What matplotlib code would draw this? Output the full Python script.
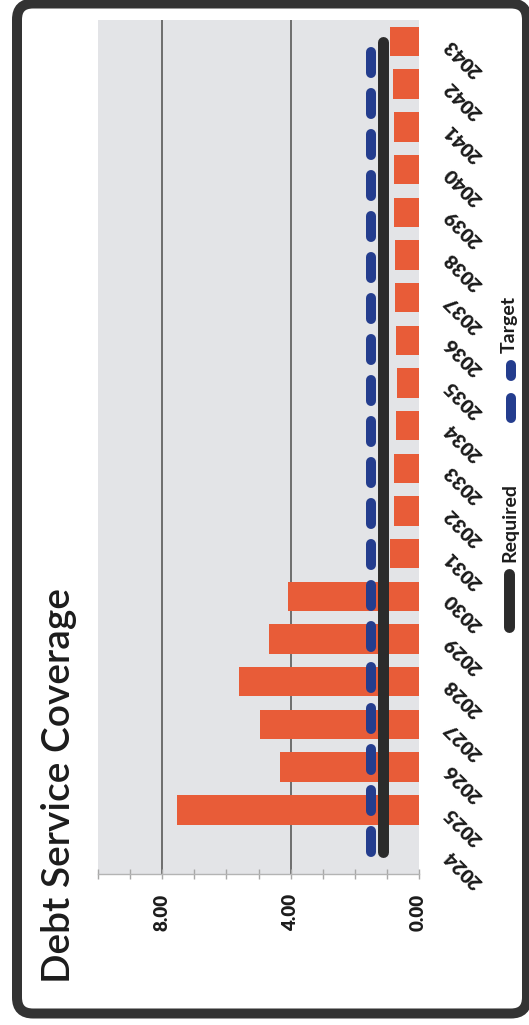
import matplotlib.pyplot as plt
import numpy as np
from matplotlib.lines import Line2D
from matplotlib.patches import FancyBboxPatch
from matplotlib.ticker import MultipleLocator

# ---------------
# ---chart data---
# ---------------

years = [str(y) for y in range(2024, 2044)]
coverage = [0.00, 7.54, 4.32, 4.96, 5.62, 4.67, 4.09, 0.90, 0.77, 0.78,
            0.72, 0.67, 0.70, 0.73, 0.73, 0.76, 0.76, 0.76, 0.80, 0.90]
required = [1.1] * len(years)
target = [1.5] * len(years)
value_ticks = [0, 4, 8]

title = 'Debt Service Coverage'

# ---------------
# ---styling---
# ---------------

W, H = 529, 1025
bar_color = '#e85c38'
req_color = '#2b2b2b'
tgt_color = '#243d8e'
text_color = '#1c1c1c'
plot_bg = '#e3e4e7'
label_weight = 'heavy'

plt.rcParams['font.family'] = ['Lato', 'DejaVu Sans']

fig = plt.figure(figsize=(W / 100, H / 100), dpi=100)
fig.patch.set_facecolor('white')

# chart is laid out sideways: values run right to left, years bottom to top
ax = fig.add_axes([98.4 / W, 1 - 873.8 / H, (418.6 - 98.4) / W, (873.8 - 20.2) / H])
ax.set_facecolor(plot_bg)

pos = np.arange(len(years))
ax.barh(pos, coverage, height=0.69, color=bar_color, zorder=2)
ax.plot(target, pos, color=tgt_color, lw=7.2, dashes=(2.1, 2.0),
        dash_capstyle='round', zorder=3)
ax.plot(required, pos, color=req_color, lw=7.9, solid_capstyle='round', zorder=4)

ax.set_xlim(10, 0)
ax.set_ylim(-0.5, len(years) - 0.5)

ax.set_xticks(value_ticks, labels=['%.2f' % v for v in value_ticks],
              rotation=90, fontweight=label_weight, fontsize=13.5,
              color=text_color)
ax.xaxis.set_minor_locator(MultipleLocator(1))
ax.tick_params(axis='x', which='both', direction='inout', length=7, width=1,
               color='#a8a8a8', pad=11)

ax.grid(axis='x', which='major', color='#4d4d4d', lw=1.1, zorder=1)
ax.set_axisbelow(True)
for gl, v in zip(ax.xaxis.get_gridlines(), value_ticks):
    if v == 0:
        gl.set_visible(False)

ax.yaxis.tick_right()
ax.set_yticks(pos, labels=years, rotation=135, rotation_mode='anchor',
              ha='right', va='center', fontweight=label_weight, fontsize=14,
              color=text_color)
ax.tick_params(axis='y', length=0, pad=21)

for side in ['top', 'left', 'right']:
    ax.spines[side].set_visible(False)
ax.spines['bottom'].set_color('#b4b4b4')
ax.spines['bottom'].set_linewidth(1)

# title
fig.text(70 / W, 1 - 983 / H, title, rotation=90, rotation_mode='anchor',
         ha='left', va='baseline', fontsize=28, fontweight='semibold',
         color=text_color)

# legend, drawn by hand so it can sit sideways
inch = fig.dpi_scale_trans
fig.add_artist(Line2D([5.09, 5.09], [(H - 627) / 100, (H - 574) / 100],
                      color=req_color, lw=7.9, solid_capstyle='round',
                      transform=inch))
fig.text(515 / W, 1 - 562 / H, 'Required', rotation=90, rotation_mode='anchor',
         ha='left', va='baseline', fontsize=14, fontweight='bold',
         color=text_color)
fig.add_artist(Line2D([5.11, 5.11], [(H - 418) / 100, (H - 365) / 100],
                      color=tgt_color, lw=7.2, dashes=(2.0, 2.2),
                      dash_capstyle='round', transform=inch))
fig.text(515 / W, 1 - 353 / H, 'Target', rotation=90, rotation_mode='anchor',
         ha='left', va='baseline', fontsize=14, fontweight='bold',
         color=text_color)

# rounded frame
frame = FancyBboxPatch((0.17, (H - 1013.5) / 100), 5.10, 10.10,
                       boxstyle='round,pad=0,rounding_size=0.16',
                       transform=inch, fill=False, ec='#333333', lw=7.2)
fig.add_artist(frame)

fig.savefig('out.png', dpi=100)
